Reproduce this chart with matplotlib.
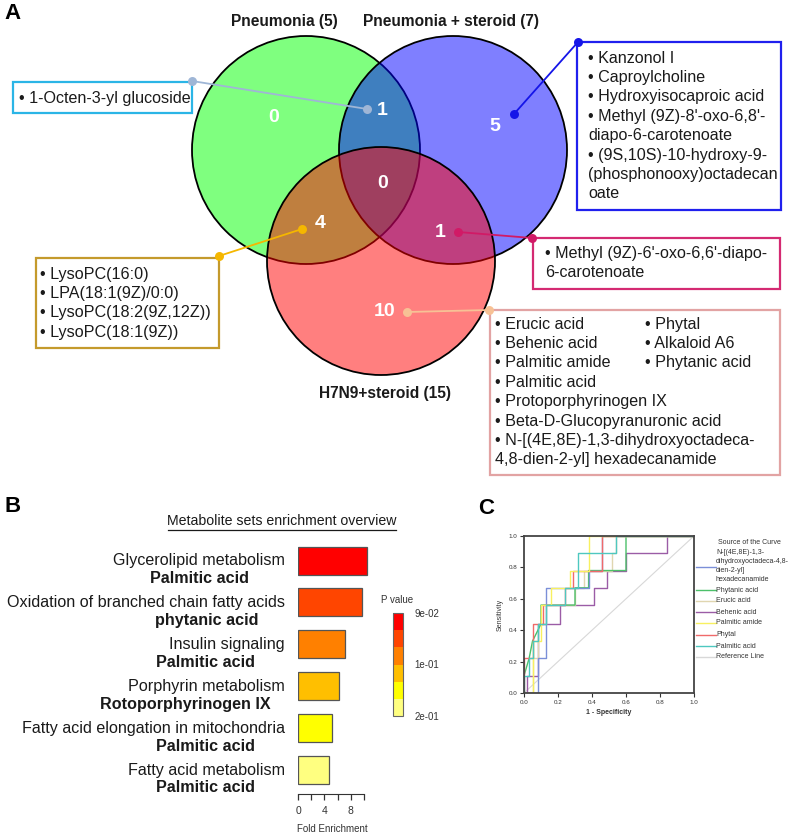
import matplotlib
matplotlib.use('Agg')
import matplotlib.pyplot as plt
import matplotlib.patches as mpatches
import matplotlib.transforms as mtrans
from matplotlib.colors import ListedColormap, BoundaryNorm
import matplotlib.colorbar as mcolorbar

plt.rcParams['font.family'] = ['Liberation Sans', 'DejaVu Sans']

# ---------------- data ----------------
venn_titles = ['Pneumonia (5)', 'Pneumonia + steroid (7)', 'H7N9+steroid (15)']
venn_region_counts = ['0', '5', '10', '1', '4', '1', '0']  # P, PS, H, P&PS, P&H, PS&H, all

box_octen = ['• 1-Octen-3-yl glucoside']
box_ps = ['• Kanzonol I', '• Caproylcholine', '• Hydroxyisocaproic acid',
          "• Methyl (9Z)-8'-oxo-6,8'-", 'diapo-6-carotenoate',
          '• (9S,10S)-10-hydroxy-9-', '(phosphonooxy)octadecan', 'oate']
box_lyso = ['• LysoPC(16:0)', '• LPA(18:1(9Z)/0:0)', '• LysoPC(18:2(9Z,12Z))', '• LysoPC(18:1(9Z))']
box_methyl = ["• Methyl (9Z)-6'-oxo-6,6'-diapo-", '6-carotenoate']
box_h7_col1 = ['• Erucic acid', '• Behenic acid', '• Palmitic amide', '• Palmitic acid',
               '• Protoporphyrinogen IX', '• Beta-D-Glucopyranuronic acid',
               '• N-[(4E,8E)-1,3-dihydroxyoctadeca-', '4,8-dien-2-yl] hexadecanamide']
box_h7_col2 = ['• Phytal', '• Alkaloid A6', '• Phytanic acid']

pathways = ['Glycerolipid metabolism', 'Oxidation of branched chain fatty acids',
            'Insulin signaling', 'Porphyrin metabolism',
            'Fatty acid elongation in mitochondria', 'Fatty acid metabolism']
hits = ['Palmitic acid', 'phytanic acid', 'Palmitic acid', 'Rotoporphyrinogen IX',
        'Palmitic acid', 'Palmitic acid']
fold_enrichment = [10.5, 9.7, 7.1, 6.2, 5.2, 4.7]
bar_colors = ['#ff0000', '#ff4500', '#ff8000', '#ffbf00', '#ffff00', '#ffff80']
pvalue_tick_labels = ['2e-01', '1e-01', '9e-02']
fold_ticks = [0, 2, 4, 6, 8, 10]
fold_tick_labels = ['0', '', '4', '', '8', '']

roc_names = ['N-[(4E,8E)-1,3-\ndihydroxyoctadeca-4,8-\ndien-2-yl]\nhexadecanamide',
             'Phytanic acid', 'Erucic acid', 'Behenic acid', 'Palmitic amide',
             'Phytal', 'Palmitic acid', 'Reference Line']
roc_colors = ['#7b8fd8', '#4cc06a', '#e0d6b0', '#9b5ca6', '#f8f060', '#f06a6a', '#4ec8c0', '#d8d8d8']
roc_x = [
    [0, 0.08, 0.08, 0.13, 0.13, 0.38, 0.38, 0.46, 0.46, 1],
    [0, 0, 0.03, 0.05, 0.10, 0.10, 0.30, 0.30, 0.38, 0.38, 0.60, 0.60, 1],
    [0, 0.05, 0.05, 0.08, 0.08, 0.13, 0.13, 0.30, 0.30, 0.35, 0.35, 0.52, 0.52, 0.54, 0.54, 1],
    [0, 0.02, 0.02, 0.08, 0.08, 0.21, 0.21, 0.41, 0.41, 0.49, 0.49, 0.60, 0.60, 0.84, 0.84, 1],
    [0, 0.05, 0.05, 0.10, 0.10, 0.16, 0.16, 0.27, 0.27, 0.38, 0.38, 1],
    [0, 0, 0.05, 0.05, 0.11, 0.11, 0.24, 0.24, 0.29, 0.29, 0.46, 0.46, 1],
    [0, 0, 0.03, 0.03, 0.05, 0.05, 0.08, 0.08, 0.13, 0.13, 0.24, 0.24, 0.32, 0.32, 0.54, 0.54, 1],
    [0, 1],
]
roc_y = [
    [0, 0, 0.22, 0.22, 0.67, 0.67, 0.78, 0.78, 1, 1],
    [0, 0.11, 0.22, 0.33, 0.44, 0.56, 0.56, 0.67, 0.67, 0.78, 0.78, 1, 1],
    [0, 0, 0.22, 0.22, 0.44, 0.44, 0.56, 0.56, 0.67, 0.67, 0.78, 0.78, 0.89, 0.89, 1, 1],
    [0, 0, 0.11, 0.11, 0.44, 0.44, 0.56, 0.56, 0.67, 0.67, 0.78, 0.78, 0.89, 0.89, 1, 1],
    [0, 0, 0.33, 0.33, 0.56, 0.56, 0.67, 0.67, 0.78, 0.78, 1, 1],
    [0, 0.22, 0.22, 0.44, 0.44, 0.56, 0.56, 0.67, 0.67, 0.78, 0.78, 1, 1],
    [0, 0.11, 0.11, 0.22, 0.22, 0.33, 0.33, 0.44, 0.44, 0.56, 0.56, 0.67, 0.67, 0.89, 0.89, 1, 1],
    [0, 1],
]
roc_ticks = [0.0, 0.2, 0.4, 0.6, 0.8, 1.0]

# ---------------- figure ----------------
W, H = 790, 834
fig = plt.figure(figsize=(W / 100, H / 100), dpi=100)
ov = fig.add_axes([0, 0, 1, 1])
ov.set_xlim(0, W)
ov.set_ylim(H, 0)
ov.set_axis_off()

TXT = '#1a1a1a'
FS_BOX = 11.6

def rect_px(x0, y0, x1, y1):
    return [x0 / W, (H - y1) / H, (x1 - x0) / W, (y1 - y0) / H]

# panel letters
for lab, (x, y) in zip(['A', 'B', 'C'], [(4, 13), (4, 506), (478, 508)]):
    ov.text(x, y, lab, fontsize=16, fontweight='bold', va='center', ha='left', color='black')

# ---- Venn ----
R = 114
circ = [((306, 150), (0, 1, 0, 0.5)), ((453, 150), (0, 0, 1, 0.5)), ((381, 261), (1, 0, 0, 0.5))]
for (c, fc) in circ:
    ov.add_patch(mpatches.Circle(c, R, facecolor=fc, edgecolor='black', lw=1.3, zorder=2))

ov.text(284, 21, venn_titles[0], fontsize=11.2, fontweight='bold', ha='center', va='center', color=TXT)
ov.text(451, 21, venn_titles[1], fontsize=11.2, fontweight='bold', ha='center', va='center', color=TXT)
ov.text(385, 393, venn_titles[2], fontsize=11.2, fontweight='bold', ha='center', va='center', color=TXT)

count_pos = [(274, 117), (495, 126), (385, 312), (382, 110), (320, 223), (440, 232), (383, 183)]
for t, (x, y) in zip(venn_region_counts, count_pos):
    ov.text(x, y, t, fontsize=14, fontweight='bold', color='white', ha='center', va='center', zorder=5)

def box(x0, y0, x1, y1, ec):
    ov.add_patch(mpatches.Rectangle((x0, y0), x1 - x0, y1 - y0, facecolor='white',
                                    edgecolor=ec, lw=1.6, zorder=3))

def connector(p1, p2, col):
    ov.plot([p1[0], p2[0]], [p1[1], p2[1]], color=col, lw=1.3, zorder=4, solid_capstyle='round')
    ov.scatter([p1[0], p2[0]], [p1[1], p2[1]], s=42, color=col, zorder=6, linewidths=0)

def lines(x, y0, items, dy, fs=FS_BOX):
    for i, s in enumerate(items):
        ov.text(x, y0 + i * dy, s, fontsize=fs, ha='left', va='center', color=TXT, zorder=5)

# cyan box
box(13, 82, 192, 113, '#2bb5e6')
lines(19, 98, box_octen, 19.5)
connector((192, 81), (367, 109), '#9fb6d6')

# blue box
box(577, 42, 781, 210, '#2020ee')
lines(588, 58, box_ps, 19.4)
connector((578, 42), (514, 114), '#1515e8')

# gold box
box(36, 258, 219, 348, '#c49a2c')
lines(40, 274, box_lyso, 19.4)
connector((219, 256), (302, 229), '#f5b700')

# magenta box
box(533, 238, 780, 289, '#d42a72')
lines(545, 253, box_methyl, 19.4)
connector((532, 238), (458, 232), '#d11a66')

# pink box
box(490, 310, 780, 475, '#e2a3a3')
lines(495, 324, box_h7_col1, 19.4)
lines(645, 324, box_h7_col2, 19.4)
connector((489, 310), (407, 312), '#f7c195')

# ---- Panel B: enrichment bars ----
px_per_unit = 6.6
axb = fig.add_axes(rect_px(298, 540, 378, 794))
axb.set_xlim(0, 80 / px_per_unit)
n = len(pathways)
spacing = 41.9
axb.set_ylim((794 - 560.5) / spacing, (540 - 560.5) / spacing)
ypos = list(range(n))
axb.barh(ypos, fold_enrichment, height=28 / spacing, color=bar_colors,
         edgecolor='#555555', lw=0.9, left=0)
for s in ['top', 'right', 'left']:
    axb.spines[s].set_visible(False)
axb.spines['bottom'].set_bounds(0, 10)
axb.spines['bottom'].set_color('#333333')
axb.set_yticks([])
axb.set_xticks(fold_ticks)
axb.set_xticklabels(fold_tick_labels, fontsize=7.5, color='#333333')
axb.tick_params(axis='x', length=4, width=0.9, color='#333333', pad=5)
axb.patch.set_alpha(0)

hit_centers = [200, 207, 205, 185, 205, 205]
tr = mtrans.blended_transform_factory(ov.transData, axb.transData)
for i, (p, h) in enumerate(zip(pathways, hits)):
    axb.text(285, i, p, transform=tr, fontsize=11.6, ha='right', va='center', color=TXT)
    axb.text(hit_centers[i], i + 18 / spacing, h, transform=tr, fontsize=11.6, fontweight='bold',
             ha='center', va='center', color=TXT)

ov.text(282, 521, 'Metabolite sets enrichment overview', fontsize=10.2, ha='center',
        va='center', color=TXT)
ov.plot([168, 396], [530, 530], color=TXT, lw=0.9)
ov.text(332, 829, 'Fold Enrichment', fontsize=7, ha='center', va='center', color='#333333')

# colorbar
cax = fig.add_axes(rect_px(393, 613, 403, 716))
cmap = ListedColormap(bar_colors[::-1])
norm = BoundaryNorm(list(range(len(bar_colors) + 1)), cmap.N)
cb = mcolorbar.ColorbarBase(cax, cmap=cmap, norm=norm, orientation='vertical')
cb.set_ticks([0, 3, 6])
cb.set_ticklabels(pvalue_tick_labels)
cax.minorticks_off()
cb.outline.set_edgecolor('#666666')
cb.outline.set_linewidth(0.8)
cax.tick_params(which='both', length=0, labelsize=7, colors='#333333', pad=8)
ov.text(397, 600, 'P value', fontsize=7, ha='center', va='center', color='#333333')

# ---- Panel C: ROC ----
axc = fig.add_axes(rect_px(524, 536, 694, 693))
order = [7, 3, 2, 1, 0, 5, 4, 6]
for k in order:
    axc.plot(roc_x[k], roc_y[k], color=roc_colors[k], lw=1.0 if k != 7 else 0.8, zorder=2)
axc.set_xlim(0, 1)
axc.set_ylim(0, 1)
axc.set_xticks(roc_ticks)
axc.set_yticks(roc_ticks)
axc.set_xticklabels([f'{t:.1f}' for t in roc_ticks])
axc.set_yticklabels([f'{t:.1f}' for t in roc_ticks])
axc.tick_params(labelsize=4.5, length=3, width=0.8, colors='#333333', pad=2)
for s in axc.spines.values():
    s.set_color('#444444')
    s.set_linewidth(1.3)
axc.set_xlabel('1 - Specificity', fontsize=5, fontweight='bold', color='#333333', labelpad=3)
axc.set_ylabel('Sensitivity', fontsize=5, color='#333333', labelpad=3)

# ROC legend
ov.text(718, 543, 'Source of the Curve', fontsize=5, ha='left', va='center', color='#333333')
leg_text_y = [566, 590, 601, 612, 623, 635, 646, 657]
leg_line_y = [567, 590, 601, 612, 623, 635, 646, 657]
for k in range(len(roc_names)):
    ov.plot([696, 716], [leg_line_y[k], leg_line_y[k]], color=roc_colors[k], lw=1.0)
    ov.text(716, leg_text_y[k], roc_names[k], fontsize=5, ha='left', va='center',
            color='#333333', linespacing=1.45)

fig.savefig('out.png', dpi=100)
